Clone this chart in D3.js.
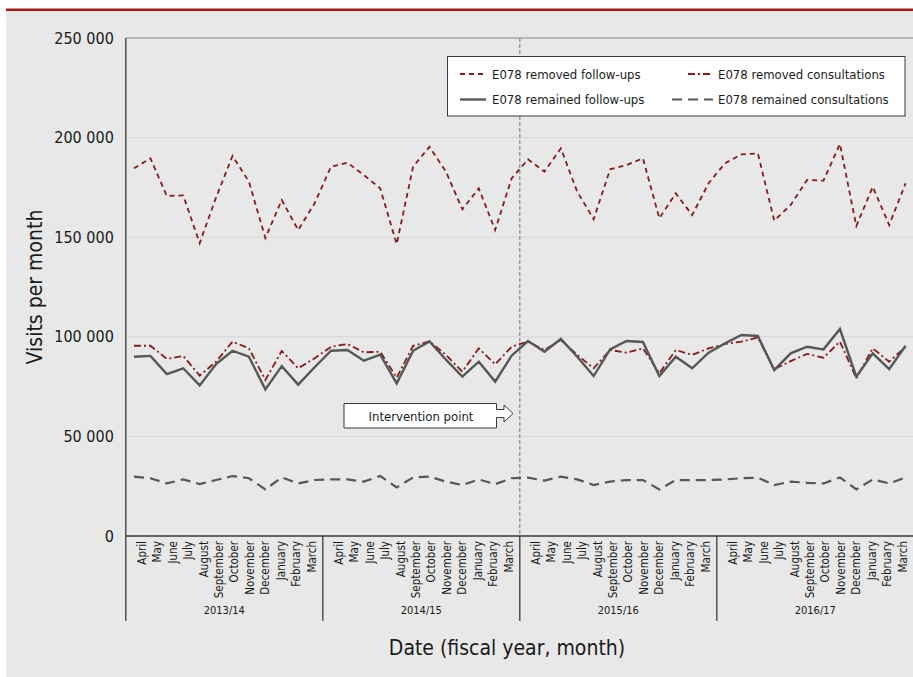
<!DOCTYPE html>
<html>
<head>
<meta charset="utf-8">
<script src="https://cdn.jsdelivr.net/npm/d3@7"></script>
<style>
  html, body { margin: 0; padding: 0; background: #fff; }
  svg { display: block; }
  text { font-family: "DejaVu Sans Condensed", "Liberation Sans", sans-serif; fill: #1a1a1a; }
</style>
</head>
<body>
<div class="myChart"></div>
<script>
// fiscal years and months (April .. March)
const years = ["2013/14", "2014/15", "2015/16", "2016/17"];
const months = ["April", "May", "June", "July", "August", "September", "October",
                "November", "December", "January", "February", "March"];
const yTicks = [0, 50000, 100000, 150000, 200000, 250000];

// visits per month, 48 months starting April 2013
const removedFollowUps = [
  184600, 189600, 170700, 171000, 147000, 170000, 190800, 177900, 149600, 168700, 153600, 167000,
  185400, 187400, 181200, 174500, 146500, 185400, 195400, 182900, 164000, 174500, 153600, 179500,
  189100, 182900, 194600, 172800, 159000, 184100, 186200, 189600, 159500, 172000, 161100, 177100,
  187100, 191600, 192100, 158300, 166200, 178700, 178400, 196800, 155600, 175300, 156100, 177100
];
const removedConsultations = [
  95500, 95500, 88900, 90400, 80500, 87500, 97600, 94200, 78300, 92900, 84200, 89200,
  95000, 96400, 92200, 92500, 79500, 95500, 97700, 90900, 82500, 94200, 86200, 95000,
  97600, 93400, 98400, 90900, 84200, 93400, 92000, 94200, 81700, 93400, 90900, 94200,
  96400, 97600, 99700, 83700, 87800, 91400, 89500, 97600, 79200, 94200, 87500, 95000
];
const remainedFollowUps = [
  90000, 90400, 81300, 84200, 75600, 86300, 93000, 90000, 73600, 85300, 76000, 84700,
  93000, 93400, 88000, 91000, 76600, 93000, 97700, 88500, 80000, 87500, 77500, 90500,
  97900, 92500, 98900, 90000, 80300, 93700, 97900, 97400, 80300, 90000, 84200, 92000,
  96700, 100900, 100400, 83300, 91700, 95000, 93700, 103900, 80000, 91700, 83800, 95500
];
const remainedConsultations = [
  29800, 29000, 26400, 28400, 26100, 28100, 30100, 29000, 23400, 29400, 26400, 28100,
  28400, 28400, 27300, 30100, 24400, 29400, 29800, 27300, 25600, 28400, 26000, 29000,
  29300, 27800, 29800, 28400, 25600, 27300, 28100, 28100, 23400, 28100, 28100, 28100,
  28400, 29000, 29300, 25600, 27300, 26700, 26400, 29400, 23400, 28400, 26400, 29400
];
const interventionIndex = 24; // April 2015/16

const seriesInfo = [
  {name: "E078 removed follow-ups", values: removedFollowUps, color: "#861b1b", width: 1.8, dash: "5,4"},
  {name: "E078 removed consultations", values: removedConsultations, color: "#861b1b", width: 1.8, dash: "7,3,2,3"},
  {name: "E078 remained follow-ups", values: remainedFollowUps, color: "#575757", width: 2.4, dash: null},
  {name: "E078 remained consultations", values: remainedConsultations, color: "#575757", width: 2.2, dash: "10,6"}
];

const W = 913, H = 677;
const svg = d3.select(".myChart").append("svg").attr("width", W).attr("height", H);

// panel background + red top rule
svg.append("rect").attr("x", 6).attr("y", 10).attr("width", W - 6).attr("height", H - 10).attr("fill", "#e7e8e7");
svg.append("rect").attr("x", 6).attr("y", 8.5).attr("width", W - 6).attr("height", 2.5).attr("fill", "#9e1b1b");

const pLeft = 125.8, pRight = 913.8, pTop = 38, pBottom = 536;
const keys = d3.range(years.length * months.length);
const x = d3.scaleBand().domain(keys).range([pLeft, pRight]);
const y = d3.scaleLinear().domain([0, 250000]).range([pBottom, pTop]);
const cx = (i) => x(i) + x.bandwidth() / 2;
const yearStep = x.step() * months.length;

// grid
svg.append("g").selectAll("line").data(yTicks.filter(d => d > 0 && d < 250000)).enter().append("line")
  .attr("x1", pLeft).attr("x2", pRight).attr("y1", d => y(d)).attr("y2", d => y(d))
  .attr("stroke", "#d4d8dd").attr("stroke-width", 1);
svg.append("line").attr("x1", pLeft).attr("x2", pRight).attr("y1", y(250000)).attr("y2", y(250000))
  .attr("stroke", "#858585").attr("stroke-width", 1.2);

// y axis
const yAxis = svg.append("g").attr("transform", `translate(${pLeft},0)`)
  .call(d3.axisLeft(y).tickValues(yTicks).tickSize(0).tickPadding(12)
    .tickFormat(d => d3.format(",")(d).replace(/,/g, " ")));
yAxis.select(".domain").remove();
yAxis.selectAll("text").attr("font-size", 16).attr("fill", "#1a1a1a")
  .style("font-family", "'DejaVu Sans Condensed', sans-serif");

svg.append("line").attr("x1", pLeft).attr("x2", pLeft).attr("y1", pTop).attr("y2", 621)
  .attr("stroke", "#3a3a3a").attr("stroke-width", 1.3);
svg.append("line").attr("x1", pLeft).attr("x2", pRight).attr("y1", pBottom).attr("y2", pBottom)
  .attr("stroke", "#3a3a3a").attr("stroke-width", 1.3);

// x axis: months (labels sit slightly inset within each fiscal year) + fiscal years
const monthPos = d3.scalePoint().domain(months).range([15.9, yearStep - 11]);
const xAxis = svg.append("g");
xAxis.selectAll("text.month").data(keys).enter().append("text")
  .attr("class", "month")
  .attr("transform", d => `translate(${pLeft + Math.floor(d / 12) * yearStep + monthPos(months[d % 12]) + 4},541) rotate(-90)`)
  .attr("text-anchor", "end").attr("font-size", 11.5)
  .text(d => months[d % 12]);
xAxis.selectAll("line.sep").data(d3.range(1, years.length + 1)).enter().append("line")
  .attr("class", "sep")
  .attr("x1", d => pLeft + d * yearStep).attr("x2", d => pLeft + d * yearStep)
  .attr("y1", pBottom).attr("y2", 621).attr("stroke", "#3a3a3a").attr("stroke-width", 1.3);
xAxis.selectAll("text.year").data(years).enter().append("text")
  .attr("class", "year")
  .attr("x", (d, i) => pLeft + (i + 0.5) * yearStep).attr("y", 613.5)
  .attr("text-anchor", "middle").attr("font-size", 11).text(d => d);

// intervention line
const ix = x(interventionIndex);
svg.append("line").attr("x1", ix).attr("x2", ix).attr("y1", pTop).attr("y2", pBottom)
  .attr("stroke", "#8a8a8a").attr("stroke-width", 1.2).attr("stroke-dasharray", "4,2");

// series
const line = d3.line().x((d, i) => cx(i)).y(d => y(d));
svg.append("g").selectAll("path").data(seriesInfo).enter().append("path")
  .attr("d", d => line(d.values))
  .attr("fill", "none")
  .attr("stroke", d => d.color)
  .attr("stroke-width", d => d.width)
  .attr("stroke-dasharray", d => d.dash)
  .attr("stroke-linejoin", "miter");

// intervention callout
const callout = svg.append("g");
callout.append("path")
  .attr("d", "M344,403.5 H496.5 V409.5 H504 V405 L513,413.5 L504,422 V417.5 H496.5 V428 H344 Z")
  .attr("fill", "#fff").attr("stroke", "#3a3a3a").attr("stroke-width", 1);
callout.append("text").attr("x", 421).attr("y", 420.5).attr("text-anchor", "middle")
  .attr("font-size", 13).text("Intervention point");

// legend
const lg = svg.append("g");
lg.append("rect").attr("x", 447.5).attr("y", 56.5).attr("width", 457.5).attr("height", 59.5)
  .attr("fill", "#fff").attr("stroke", "#3a3a3a").attr("stroke-width", 1);
const legendPos = [
  {x1: 460, x2: 485, tx: 492, ty: 74},
  {x1: 688, x2: 712, tx: 718, ty: 74},
  {x1: 460, x2: 486, tx: 492, ty: 99.5},
  {x1: 672, x2: 713, tx: 718, ty: 99.5}
];
seriesInfo.forEach((s, i) => {
  const p = legendPos[i];
  lg.append("line").attr("x1", p.x1).attr("x2", p.x2).attr("y1", p.ty).attr("y2", p.ty)
    .attr("stroke", s.color).attr("stroke-width", s.width).attr("stroke-dasharray", s.dash);
  lg.append("text").attr("x", p.tx).attr("y", p.ty + 4.5).attr("font-size", 13).text(s.name);
});

// axis titles
svg.append("text").attr("transform", "translate(42,287) rotate(-90)")
  .attr("text-anchor", "middle").attr("font-size", 21).text("Visits per month");
svg.append("text").attr("x", 507).attr("y", 655)
  .attr("text-anchor", "middle").attr("font-size", 21).text("Date (fiscal year, month)");
</script>
</body>
</html>
